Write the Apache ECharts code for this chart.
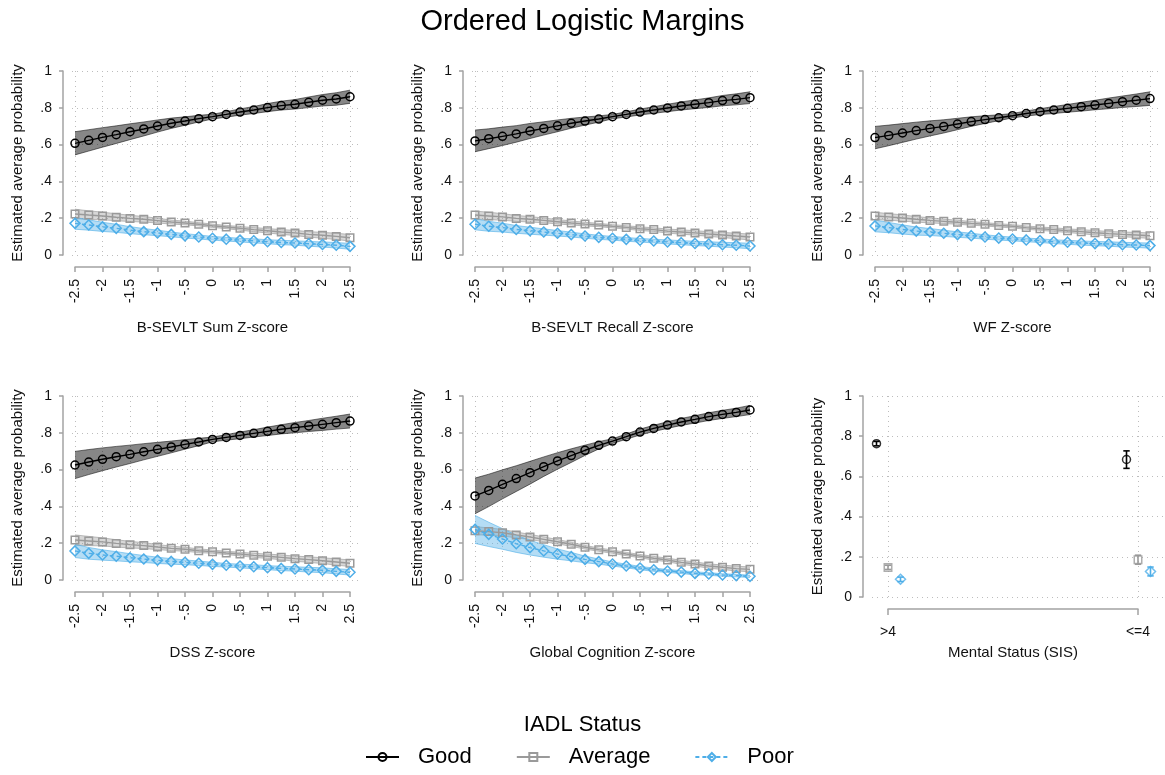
<!DOCTYPE html>
<html><head><meta charset="utf-8">
<script src="https://cdn.jsdelivr.net/npm/echarts@6/dist/echarts.min.js"></script>
<style>html,body{margin:0;padding:0;background:#fff}#c{width:1165px;height:775px}</style>
</head><body><div id="c"></div><script>
// ---------- DATA ----------
const zValues = [-2.5,-2.25,-2,-1.75,-1.5,-1.25,-1,-0.75,-0.5,-0.25,0,0.25,0.5,0.75,1,1.25,1.5,1.75,2,2.25,2.5];
const zTicks = [-2.5,-2,-1.5,-1,-0.5,0,0.5,1,1.5,2,2.5];
const zTickLabels = ['-2.5','-2','-1.5','-1','-.5','0','.5','1','1.5','2','2.5'];
const yTicks = [0,0.2,0.4,0.6,0.8,1];
const yTickLabels = ['0','.2','.4','.6','.8','1'];
const groupNames = ['Good','Average','Poor'];
const panelTitles = ['B-SEVLT Sum Z-score','B-SEVLT Recall Z-score','WF Z-score','DSS Z-score','Global Cognition Z-score'];

// B-SEVLT Sum
const sumGood   = [0.607,0.623,0.639,0.654,0.670,0.685,0.701,0.716,0.728,0.741,0.752,0.764,0.777,0.788,0.801,0.812,0.819,0.830,0.841,0.848,0.860];
const sumGoodCI = [0.063,0.058,0.053,0.048,0.043,0.038,0.033,0.028,0.023,0.018,0.013,0.015,0.017,0.019,0.022,0.024,0.026,0.029,0.031,0.034,0.036];
const sumAvg    = [0.223,0.217,0.212,0.205,0.199,0.194,0.187,0.179,0.174,0.167,0.159,0.152,0.145,0.138,0.132,0.125,0.120,0.112,0.107,0.101,0.094];
const sumAvgCI  = [0.026,0.023,0.021,0.019,0.017,0.015,0.013,0.011,0.010,0.009,0.009,0.009,0.010,0.011,0.012,0.013,0.014,0.015,0.016,0.017,0.018];
const sumPoor   = [0.172,0.163,0.153,0.145,0.135,0.127,0.120,0.112,0.104,0.098,0.091,0.086,0.081,0.077,0.072,0.068,0.065,0.061,0.057,0.053,0.047];
const sumPoorCI = [0.032,0.028,0.025,0.022,0.019,0.017,0.015,0.013,0.012,0.011,0.010,0.010,0.010,0.011,0.011,0.012,0.012,0.013,0.014,0.015,0.016];
// B-SEVLT Recall
const recGood   = [0.620,0.632,0.645,0.658,0.674,0.688,0.702,0.716,0.728,0.739,0.752,0.764,0.777,0.788,0.799,0.810,0.819,0.828,0.839,0.846,0.855];
const recGoodCI = [0.059,0.054,0.050,0.045,0.041,0.036,0.032,0.027,0.022,0.017,0.012,0.014,0.016,0.018,0.020,0.022,0.024,0.026,0.028,0.030,0.032];
const recAvg    = [0.217,0.212,0.207,0.199,0.194,0.188,0.181,0.174,0.168,0.163,0.156,0.150,0.143,0.138,0.130,0.125,0.120,0.114,0.109,0.103,0.098];
const recAvgCI  = [0.022,0.020,0.018,0.016,0.015,0.013,0.012,0.011,0.010,0.009,0.009,0.009,0.010,0.010,0.011,0.012,0.012,0.013,0.014,0.015,0.016];
const recPoor   = [0.167,0.156,0.149,0.139,0.132,0.125,0.118,0.111,0.103,0.096,0.091,0.085,0.080,0.076,0.071,0.067,0.063,0.060,0.056,0.053,0.049];
const recPoorCI = [0.030,0.027,0.024,0.021,0.019,0.017,0.015,0.013,0.012,0.011,0.010,0.010,0.010,0.010,0.011,0.011,0.012,0.012,0.013,0.014,0.015];
// WF
const wfGood    = [0.638,0.650,0.663,0.676,0.688,0.699,0.712,0.725,0.736,0.746,0.757,0.769,0.779,0.788,0.797,0.806,0.815,0.824,0.833,0.841,0.850];
const wfGoodCI  = [0.061,0.056,0.051,0.046,0.041,0.036,0.031,0.026,0.021,0.016,0.012,0.014,0.016,0.019,0.021,0.024,0.026,0.029,0.031,0.034,0.037];
const wfAvg     = [0.212,0.207,0.201,0.194,0.188,0.183,0.178,0.172,0.167,0.161,0.156,0.149,0.143,0.138,0.132,0.127,0.121,0.116,0.112,0.109,0.105];
const wfAvgCI   = [0.020,0.018,0.017,0.015,0.014,0.012,0.011,0.010,0.009,0.009,0.009,0.009,0.009,0.010,0.010,0.011,0.012,0.012,0.013,0.014,0.015];
const wfPoor    = [0.158,0.149,0.139,0.130,0.125,0.118,0.111,0.105,0.098,0.092,0.087,0.082,0.078,0.072,0.069,0.065,0.062,0.060,0.056,0.054,0.051];
const wfPoorCI  = [0.032,0.028,0.025,0.022,0.019,0.017,0.015,0.013,0.012,0.011,0.010,0.010,0.010,0.010,0.011,0.011,0.012,0.012,0.013,0.013,0.014];
// DSS
const dssGood   = [0.625,0.641,0.656,0.670,0.683,0.697,0.710,0.723,0.737,0.750,0.764,0.775,0.786,0.797,0.808,0.819,0.828,0.837,0.846,0.855,0.864];
const dssGoodCI = [0.074,0.068,0.062,0.056,0.050,0.044,0.038,0.032,0.026,0.020,0.013,0.015,0.018,0.020,0.023,0.025,0.028,0.030,0.033,0.035,0.038];
const dssAvg    = [0.217,0.212,0.207,0.199,0.192,0.187,0.179,0.172,0.167,0.159,0.154,0.147,0.141,0.134,0.129,0.123,0.116,0.111,0.105,0.098,0.091];
const dssAvgCI  = [0.028,0.025,0.022,0.020,0.018,0.016,0.014,0.012,0.011,0.010,0.009,0.009,0.010,0.011,0.012,0.013,0.014,0.015,0.016,0.017,0.018];
const dssPoor   = [0.158,0.145,0.136,0.129,0.121,0.114,0.107,0.101,0.096,0.091,0.085,0.080,0.076,0.072,0.067,0.063,0.060,0.056,0.053,0.047,0.042];
const dssPoorCI = [0.036,0.032,0.028,0.025,0.022,0.019,0.017,0.015,0.013,0.012,0.011,0.010,0.010,0.011,0.011,0.012,0.012,0.013,0.013,0.014,0.015];
// Global Cognition
const globGood   = [0.457,0.487,0.520,0.551,0.583,0.616,0.647,0.676,0.705,0.732,0.755,0.779,0.804,0.824,0.842,0.859,0.873,0.888,0.900,0.911,0.924];
const globGoodCI = [0.097,0.088,0.079,0.070,0.062,0.053,0.045,0.037,0.028,0.020,0.013,0.014,0.016,0.017,0.018,0.019,0.020,0.021,0.022,0.023,0.025];
const globAvg    = [0.268,0.263,0.257,0.245,0.234,0.221,0.208,0.194,0.178,0.165,0.154,0.141,0.130,0.118,0.109,0.096,0.087,0.076,0.069,0.062,0.058];
const globAvgCI  = [0.022,0.020,0.018,0.016,0.014,0.013,0.012,0.011,0.010,0.009,0.009,0.009,0.009,0.010,0.010,0.011,0.011,0.012,0.012,0.013,0.013];
const globPoor   = [0.275,0.248,0.223,0.197,0.176,0.158,0.141,0.127,0.112,0.100,0.087,0.076,0.065,0.056,0.049,0.043,0.036,0.033,0.027,0.024,0.020];
const globPoorCI = [0.076,0.066,0.056,0.047,0.040,0.034,0.028,0.023,0.018,0.014,0.011,0.010,0.009,0.009,0.008,0.008,0.008,0.007,0.007,0.007,0.006];

// Mental Status (SIS)
const sisCategories = ['>4','<=4'];
const sisGood    = [0.763,0.684];
const sisGoodLo  = [0.752,0.640];
const sisGoodHi  = [0.774,0.727];
const sisAvg     = [0.147,0.185];
const sisAvgLo   = [0.137,0.163];
const sisAvgHi   = [0.158,0.208];
const sisPoor    = [0.088,0.127];
const sisPoorLo  = [0.077,0.105];
const sisPoorHi  = [0.099,0.149];

// ---------- STYLE ----------
const FONT = '"Liberation Sans", Arial, Helvetica, sans-serif';
const styles = {
  Good:    {color:'#000000', symbol:'circle', size:8, dash:'solid', fill:'rgba(0,0,0,0.47)', edge:'rgba(0,0,0,0.65)', offset:-0.046},
  Average: {color:'#9a9a9a', symbol:'rect', size:7.5, dash:'solid', fill:'rgba(150,150,150,0.38)', edge:'rgba(150,150,150,0.75)', offset:0},
  Poor:    {color:'#4eaee8', symbol:'diamond', size:10, dash:[4,3], fill:'rgba(78,174,232,0.42)', edge:'rgba(78,174,232,0.75)', offset:0.05}
};
const AX = '#a3a3a3';
const gridLine = {show:true, lineStyle:{type:[1,4], color:'#bdbdbd', width:1}};

const panels = [
  {title:panelTitles[0], mean:[sumGood,sumAvg,sumPoor], ci:[sumGoodCI,sumAvgCI,sumPoorCI]},
  {title:panelTitles[1], mean:[recGood,recAvg,recPoor], ci:[recGoodCI,recAvgCI,recPoorCI]},
  {title:panelTitles[2], mean:[wfGood,wfAvg,wfPoor], ci:[wfGoodCI,wfAvgCI,wfPoorCI]},
  {title:panelTitles[3], mean:[dssGood,dssAvg,dssPoor], ci:[dssGoodCI,dssAvgCI,dssPoorCI]},
  {title:panelTitles[4], mean:[globGood,globAvg,globPoor], ci:[globGoodCI,globAvgCI,globPoorCI]}
];

function lookup(vals, labels){
  return v => { const i = vals.findIndex(t => Math.abs(t - v) < 1e-6); return i >= 0 ? labels[i] : ''; };
}

const grid = [], xAxis = [], yAxis = [], series = [];
const rowTop = [71, 396];

function addBackGrid(left, top, width, height){
  const k = grid.length;
  grid.push({left, top, width, height, containLabel:false});
  xAxis.push({gridIndex:k, type:'value', min:0, max:1, show:false});
  yAxis.push({gridIndex:k, type:'value', min:0, max:1, interval:0.2,
    axisLine:{show:false}, axisTick:{show:false}, axisLabel:{show:false}, splitLine:gridLine});
  return k;
}

const baseAxisText = {fontSize:14, color:'#111', fontFamily:FONT};
function yAxisDef(k, offset){
  return {gridIndex:k, type:'value', min:0, max:1, interval:0.2, offset,
    axisLine:{show:true, onZero:false, lineStyle:{color:AX, width:1.5}},
    axisTick:{show:true, length:4, lineStyle:{color:AX, width:1.5}},
    axisLabel:Object.assign({margin:11, formatter:lookup(yTicks,yTickLabels), showMinLabel:true, showMaxLabel:true}, baseAxisText),
    splitLine:{show:false},
    name:'Estimated average probability', nameLocation:'middle', nameGap:38,
    nameTextStyle:{fontSize:15, color:'#111', fontFamily:FONT}};
}

// band drawn as one polygon through the library's coordinate mapping
function bandRenderer(s, bandData){
  return (params, api) => {
    if (params.dataIndex !== 0) return null;
    const upper = [], lower = [];
    bandData.forEach(d => { upper.push(api.coord([d[0], d[2]])); lower.push(api.coord([d[0], d[1]])); });
    const poly = upper.concat(lower.slice().reverse());
    return {type:'group', children:[
      {type:'polygon', shape:{points:poly}, style:{fill:s.fill, stroke:null}},
      {type:'polyline', shape:{points:upper}, style:{stroke:s.edge, lineWidth:0.8, fill:null}},
      {type:'polyline', shape:{points:lower}, style:{stroke:s.edge, lineWidth:0.8, fill:null}}
    ]};
  };
}

panels.forEach((p, i) => {
  const col = i % 3, row = Math.floor(i / 3);
  const top = rowTop[row];
  addBackGrid(72 + 400*col, top, 290, 184);
  const k = grid.length;
  grid.push({left:75 + 400*col, top, width:275, height:184});
  xAxis.push({gridIndex:k, type:'value', min:-2.5, max:2.5, interval:0.5, offset:12,
    axisLine:{show:true, onZero:false, lineStyle:{color:AX, width:1.5}},
    axisTick:{show:true, length:5, lineStyle:{color:AX, width:1.5}},
    axisLabel:Object.assign({rotate:90, margin:12, formatter:lookup(zTicks,zTickLabels), showMinLabel:true, showMaxLabel:true}, baseAxisText),
    splitLine:gridLine,
    name:p.title, nameLocation:'middle', nameGap:53,
    nameTextStyle:{fontSize:15, color:'#111', fontFamily:FONT}});
  yAxis.push(yAxisDef(k, 12));

  // CI bands
  groupNames.forEach((g, gi) => {
    const s = styles[g], m = p.mean[gi], c = p.ci[gi];
    const bandData = zValues.map((x, j) => [x, m[j] - c[j], m[j] + c[j]]);
    series.push({type:'custom', name:g + ' CI', xAxisIndex:k, yAxisIndex:k, z:1 + gi*0.1, silent:true, animation:false,
      data:bandData, encode:{x:0, y:[1,2]}, renderItem:bandRenderer(s, bandData)});
  });
  // lines
  groupNames.forEach((g, gi) => {
    const s = styles[g], m = p.mean[gi];
    series.push({type:'line', name:g, xAxisIndex:k, yAxisIndex:k, z:3 + gi, clip:false,
      symbol:s.symbol, symbolSize:s.size, showSymbol:true, showAllSymbol:true,
      itemStyle:{color:'rgba(255,255,255,0)', borderColor:s.color, borderWidth:1.5},
      lineStyle:{color:s.color, width:1.4, type:s.dash},
      emphasis:{disabled:true}, animation:false,
      data:zValues.map((x, j) => [x, m[j]])});
  });
});

// Panel 6: Mental Status (SIS)
addBackGrid(872, 396, 291, 201);
const k6 = grid.length;
grid.push({left:888, top:396, width:250, height:201});
xAxis.push({gridIndex:k6, type:'value', min:1, max:2, interval:1, offset:12,
  axisLine:{show:true, onZero:false, lineStyle:{color:AX, width:1.5}},
  axisTick:{show:true, length:6, lineStyle:{color:AX, width:1.5}},
  axisLabel:Object.assign({margin:16, formatter:v => sisCategories[Math.round(v) - 1] || '', showMinLabel:true, showMaxLabel:true}, baseAxisText),
  splitLine:gridLine,
  name:'Mental Status (SIS)', nameLocation:'middle', nameGap:36,
  nameTextStyle:{fontSize:15, color:'#111', fontFamily:FONT}});
yAxis.push(yAxisDef(k6, 25));

const sisData = {Good:[sisGood,sisGoodLo,sisGoodHi], Average:[sisAvg,sisAvgLo,sisAvgHi], Poor:[sisPoor,sisPoorLo,sisPoorHi]};
groupNames.forEach((g, gi) => {
  const s = styles[g], d = sisData[g];
  const xs = sisCategories.map((c, ci) => ci + 1 + s.offset);
  series.push({type:'custom', name:g + ' SIS CI', xAxisIndex:k6, yAxisIndex:k6, z:3, silent:true, animation:false,
    data:xs.map((x, j) => [x, d[1][j], d[2][j]]),
    encode:{x:0, y:[1,2]},
    renderItem:(params, api) => {
      const x = api.value(0);
      const lo = api.coord([x, api.value(1)]), hi = api.coord([x, api.value(2)]);
      const cap = 3.2, st = {stroke:s.color, lineWidth:1.6};
      return {type:'group', children:[
        {type:'line', shape:{x1:lo[0], y1:lo[1], x2:hi[0], y2:hi[1]}, style:st},
        {type:'line', shape:{x1:lo[0]-cap, y1:lo[1], x2:lo[0]+cap, y2:lo[1]}, style:st},
        {type:'line', shape:{x1:hi[0]-cap, y1:hi[1], x2:hi[0]+cap, y2:hi[1]}, style:st}
      ]};
    }});
  series.push({type:'scatter', name:g + ' SIS', xAxisIndex:k6, yAxisIndex:k6, z:4, clip:false, silent:true, animation:false,
    symbol:s.symbol, symbolSize:s.size,
    itemStyle:{color:'rgba(255,255,255,0)', borderColor:s.color, borderWidth:1.5},
    data:xs.map((x, j) => [x, d[0][j]])});
});

const option = {
  backgroundColor:'#ffffff',
  animation:false,
  textStyle:{fontFamily:FONT},
  title:[
    {text:'Ordered Logistic Margins', left:'center', top:7, padding:0,
     textStyle:{fontSize:29, fontWeight:'normal', color:'#000', fontFamily:FONT}},
    {text:'IADL Status', left:'center', top:714, padding:0,
     textStyle:{fontSize:22, fontWeight:'normal', color:'#000', fontFamily:FONT}}
  ],
  legend:{data:groupNames, left:365, top:746, padding:0, itemWidth:33, itemHeight:10, itemGap:44,
    selectedMode:false,
    textStyle:{fontSize:22, color:'#000', fontFamily:FONT, padding:[0,0,0,14]}},
  grid, xAxis, yAxis, series
};
const chart = echarts.init(document.getElementById('c'), null, {renderer:'canvas'});
chart.setOption(option);
</script></body></html>
